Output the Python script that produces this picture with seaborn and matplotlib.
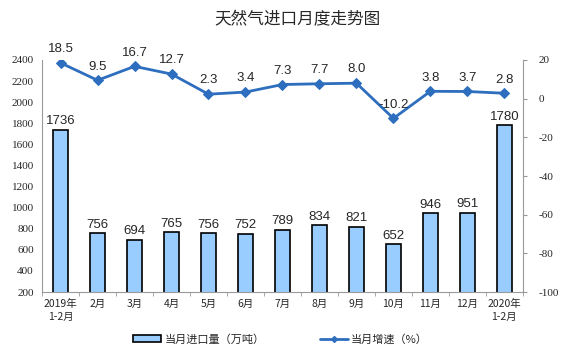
import numpy as np
import pandas as pd
import seaborn as sns
from matplotlib import pyplot as plt
from matplotlib.patches import Patch
from matplotlib.lines import Line2D

months = ['2019年\n1-2月', '2月', '3月', '4月', '5月', '6月', '7月', '8月', '9月',
          '10月', '11月', '12月', '2020年\n1-2月']
imports = [1736, 756, 694, 765, 756, 752, 789, 834, 821, 652, 946, 951, 1780]
growth = [18.5, 9.5, 16.7, 12.7, 2.3, 3.4, 7.3, 7.7, 8.0, -10.2, 3.8, 3.7, 2.8]

sns.set_style('white')
plt.rcParams['font.family'] = ['Noto Sans CJK SC', 'DejaVu Sans']
plt.rcParams['axes.unicode_minus'] = False

df = pd.DataFrame({'pos': np.arange(len(months)), 'imports': imports, 'growth': growth})

fig = plt.figure(figsize=(5.61, 3.57), dpi=100)
ax = fig.add_axes([0.075, 0.182, 0.857, 0.65])

bar_c = '#99CCFF'
line_c = '#2E6EBE'

sns.barplot(data=df, x='pos', y='imports', color=bar_c, edgecolor='black',
            linewidth=1.2, width=0.4, saturation=1, ax=ax)
ax.set_ylim(200, 2400)
ax.set_yticks(range(200, 2401, 200))
ax.set_xlim(-0.5, len(months) - 0.5)
ax.set_xticks(range(len(months)))
ax.set_xticklabels(months, fontsize=7.5, family=['Noto Sans CJK SC'], linespacing=1.4)
ax.set_xlabel('')
ax.set_ylabel('')
for lab in ax.get_yticklabels():
    lab.set_family('Liberation Serif')
    lab.set_fontsize(8)
ax.set_xticks(np.arange(-0.5, len(months), 1), minor=True)
ax.tick_params(axis='x', which='major', length=0, pad=5)
ax.tick_params(axis='x', which='minor', length=3, color='#999999', direction='out', bottom=True)
ax.tick_params(axis='y', length=0, pad=6)
for s in ['top', 'right']:
    ax.spines[s].set_visible(False)
ax.spines['left'].set_color('#999999')
ax.spines['bottom'].set_color('#999999')
ax.spines['left'].set_linewidth(0.8)
ax.spines['bottom'].set_linewidth(0.8)

for i, v in enumerate(imports):
    ax.text(i, v + 25, str(v), ha='center', va='bottom', fontsize=9.5,
            family='Liberation Sans')

ax2 = ax.twinx()
sns.lineplot(data=df, x='pos', y='growth', color=line_c, linewidth=2, marker='D',
             markersize=5, markeredgecolor=line_c, ax=ax2)
ax2.set_ylim(-100, 20)
ax2.set_yticks(range(-100, 21, 20))
ax2.set_ylabel('')
ax2.set_xlabel('')
for lab in ax2.get_yticklabels():
    lab.set_family('Liberation Serif')
    lab.set_fontsize(8)
ax2.tick_params(axis='y', length=3, color='#999999', direction='out', pad=8, right=True)
for s in ['top', 'left', 'bottom']:
    ax2.spines[s].set_visible(False)
ax2.spines['right'].set_color('#999999')
ax2.spines['right'].set_linewidth(0.8)
ax2.set_xlim(-0.5, len(months) - 0.5)

for i, g in enumerate(growth):
    ax2.text(i, g + 4, f'{g:.1f}', ha='center', va='bottom', fontsize=9.5,
             family='Liberation Sans')

fig.text(0.53, 0.945, '天然气进口月度走势图', ha='center', va='center', fontsize=12)

handles = [Patch(facecolor=bar_c, edgecolor='black', linewidth=1.2),
           Line2D([0], [0], color=line_c, linewidth=2, marker='D', markersize=3)]
fig.legend(handles, ['当月进口量（万吨）', '当月增速（%）'], loc='center',
           bbox_to_anchor=(0.5, 0.05), ncol=2, frameon=False, fontsize=8,
           columnspacing=5, handlelength=2.5, handletextpad=0.3)

fig.savefig('out.png', dpi=100)
